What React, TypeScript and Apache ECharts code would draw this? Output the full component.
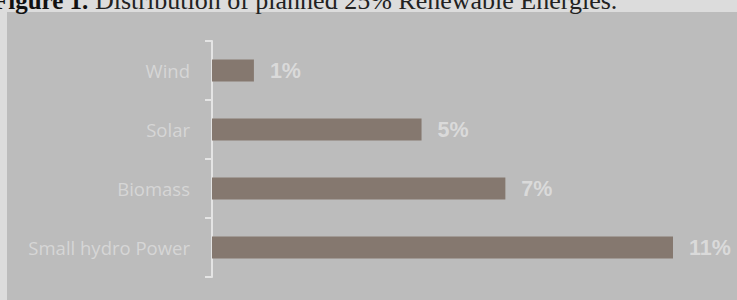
import React, { useEffect, useRef } from "react";
import * as echarts from "echarts";

const categories = ["Wind", "Solar", "Biomass", "Small hydro Power"];
const shares = [1, 5, 7, 11];
const titleBold = "Figure 1.";
const titleRest = "Distribution of planned 25% Renewable Energies.";

export default function App() {
  const ref = useRef<HTMLDivElement>(null);
  useEffect(() => {
    if (!ref.current) return;
    const chart = echarts.init(ref.current, null, { renderer: "svg" });
    chart.setOption({
      animation: false,
      backgroundColor: "#dcdcdc",
      graphic: [
        { type: "rect", z: -10, shape: { x: 7, y: 12, width: 730, height: 288 }, style: { fill: "#bcbcbc" } },
        {
          type: "text",
          x: -7,
          y: 13,
          style: {
            text: titleBold,
            font: "bold 25px 'Liberation Serif', serif",
            fill: "#111",
            verticalAlign: "bottom",
          },
        },
        {
          type: "text",
          x: 95,
          y: 13,
          style: {
            text: titleRest,
            font: "26px 'Liberation Serif', serif",
            fill: "#222",
            verticalAlign: "bottom",
          },
        },
      ],
      grid: { left: 212, right: 64, top: 41, bottom: 23, containLabel: false },
      xAxis: { type: "value", min: 0, max: 11, show: false },
      yAxis: {
        type: "category",
        inverse: true,
        data: categories,
        axisLine: { show: true, lineStyle: { color: "#e4e4e4", width: 2 } },
        axisTick: { show: true, length: 7, lineStyle: { color: "#e4e4e4", width: 2 } },
        axisLabel: { color: "#d6d6d6", fontSize: 18.5, fontFamily: "'Open Sans', sans-serif", margin: 22 },
        splitLine: { show: false },
      },
      series: [
        {
          type: "bar",
          data: shares,
          barWidth: 22,
          itemStyle: { color: "#85786f" },
          label: {
            show: true,
            position: "right",
            distance: 16,
            formatter: "{c}%",
            color: "#dadada",
            fontWeight: "bold",
            fontSize: 21.5,
            fontFamily: "'Liberation Sans', Arial, sans-serif",
          },
        },
      ],
    });
    return () => chart.dispose();
  }, []);
  return (
    <div
      ref={ref}
      style={{ position: "fixed", left: 0, top: 0, width: 737, height: 300 }}
    />
  );
}
